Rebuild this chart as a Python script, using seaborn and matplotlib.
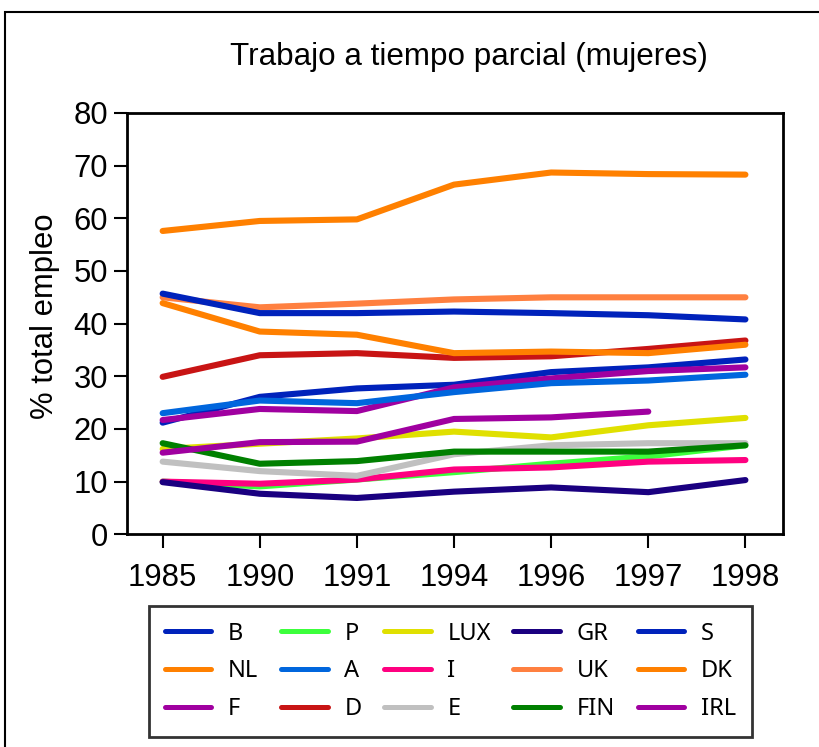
import matplotlib
matplotlib.use("Agg")
import matplotlib.pyplot as plt
import seaborn as sns
import pandas as pd
import numpy as np
from matplotlib.font_manager import FontProperties
from matplotlib.patches import Rectangle

years = ["1985", "1990", "1991", "1994", "1996", "1997", "1998"]

B = [21.2, 26.1, 27.7, 28.4, 30.8, 31.7, 33.2]
NL = [57.6, 59.5, 59.8, 66.4, 68.7, 68.4, 68.3]
F = [21.7, 23.8, 23.4, 27.9, 29.6, 31.0, 31.7]
P = [10.0, 9.1, 10.4, 11.8, 13.4, 14.8, 16.9]
A = [23.0, 25.4, 24.9, 27.0, 28.7, 29.2, 30.3]
D = [29.9, 34.0, 34.4, 33.5, 33.8, 35.2, 36.8]
LUX = [16.2, 17.2, 18.2, 19.5, 18.4, 20.7, 22.1]
I = [10.0, 9.6, 10.4, 12.3, 12.7, 13.8, 14.1]
E = [13.8, 12.0, 11.1, 15.2, 16.9, 17.3, 17.3]
GR = [9.9, 7.7, 6.9, 8.1, 8.9, 8.0, 10.3]
UK = [45.0, 43.1, 43.8, 44.6, 45.0, 45.0, 45.0]
FIN = [17.3, 13.4, 13.9, 15.7, 15.7, 15.7, 16.9]
S = [45.7, 42.0, 42.0, 42.3, 42.0, 41.6, 40.8]
DK = [43.9, 38.5, 37.9, 34.4, 34.7, 34.4, 36.0]
IRL = [15.5, 17.5, 17.6, 21.9, 22.2, 23.3, np.nan]

series_names = ["B", "NL", "F", "P", "A", "D", "LUX", "I", "E",
                "GR", "UK", "FIN", "S", "DK", "IRL"]
series_values = [B, NL, F, P, A, D, LUX, I, E, GR, UK, FIN, S, DK, IRL]
colors = ["#0022bb", "#ff8000", "#a000a0", "#3cff3c", "#0066dd", "#c81414",
          "#e0e000", "#ff0080", "#c0c0c0", "#1a0080", "#ff8040", "#008000",
          "#0022bb", "#ff8000", "#a000a0"]

rows = []
for name, vals in zip(series_names, series_values):
    for yr, v in zip(years, vals):
        rows.append({"year": yr, "value": v, "country": name})
df = pd.DataFrame(rows).dropna()

W, H = 820, 747
fig = plt.figure(figsize=(W / 100, H / 100), dpi=100)
plt.rcParams['font.family'] = ['Liberation Sans', 'DejaVu Sans']

ax = fig.add_axes([126.7 / W, 1 - 534.3 / H, (783.3 - 126.7) / W, (534.3 - 113) / H])
sns.lineplot(data=df, x="year", y="value", hue="country",
             hue_order=series_names, palette=dict(zip(series_names, colors)),
             linewidth=4.4, ax=ax, sort=False, legend=True)
for ln in ax.get_lines():
    ln.set_solid_capstyle("round")
    ln.set_solid_joinstyle("round")

ax.set_xlim(-0.37, 6.39)
ax.set_ylim(0, 80)
ax.set_yticks([0, 10, 20, 30, 40, 50, 60, 70, 80])
ax.set_xlabel("")
ax.set_ylabel("")
for sp in ax.spines.values():
    sp.set_visible(True)
    sp.set_color("black")
    sp.set_linewidth(2)
ax.tick_params(axis="both", direction="out", width=1.5, labelsize=22.3, colors="black")
ax.tick_params(axis="x", length=10, pad=11)
ax.tick_params(axis="y", length=9.5, pad=4)
ax.grid(False)
ax.set_facecolor("white")

fig.text(469 / W, 1 - 57 / H, "Trabajo a tiempo parcial (mujeres)",
         ha="center", va="center", fontsize=22.6)
fig.text(45 / W, 1 - 316 / H, "% total empleo", rotation=90,
         ha="center", va="center", fontsize=22.3)

leg_font = FontProperties(family="Noto Sans", stretch="condensed", size=17)
handles, labels = ax.get_legend_handles_labels()
ax.get_legend().remove()
leg = fig.legend(handles, labels, loc="upper left",
                 bbox_to_anchor=(149 / W, 1 - 606 / H), ncol=5, prop=leg_font,
                 frameon=True, fancybox=False, edgecolor="black", borderaxespad=0,
                 handlelength=1.98, handletextpad=0.71, columnspacing=0.95,
                 labelspacing=0.58, borderpad=0.66)
leg.get_frame().set_linewidth(2)
for ln in leg.get_lines():
    ln.set_linewidth(3.6)
    ln.set_solid_capstyle("round")

fig.add_artist(Rectangle((5 / W, -0.1), 1.2, 1 - 12 / H + 0.1, transform=fig.transFigure,
                         fill=False, edgecolor="black", linewidth=1.5))

fig.savefig("out.png", dpi=100)
